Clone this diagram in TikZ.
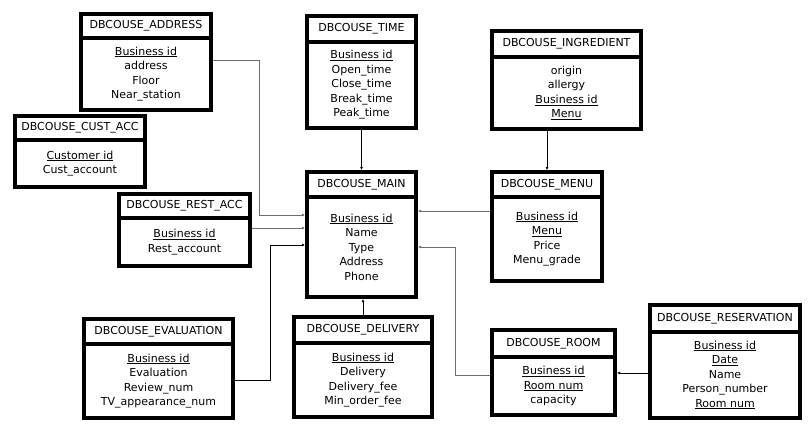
\documentclass[tikz,border=0pt]{standalone}
\usepackage{fontspec}
\setmainfont{DejaVu Sans}
\usetikzlibrary{arrows.meta,positioning}

\begin{document}
\begin{tikzpicture}[x=1pt,y=-1pt,
      tbl/.style={draw=black,line width=4pt,fill=white,outer sep=0pt,inner sep=1pt,align=center,font=\fontsize{11}{14.5}\selectfont},
      hd/.style={tbl},
      bd/.style={tbl,below=0pt of #1},
      lnk/.style={-{Latex[length=3pt,width=3pt]},line width=0.7pt,shorten >=2pt,shorten <=2pt}
    ]
    \useasboundingbox (0,0) rectangle (810,429);
    % tables
    \node[hd,minimum width=130pt,minimum height=24pt] (addrH) at (146,26) {DBCOUSE\_ADDRESS};
    \node[bd=addrH,minimum width=130pt,minimum height=72pt] (addr) {\underline{Business id}\\address\\Floor\\Near\_station};
    \node[hd,minimum width=130pt,minimum height=24pt] (custH) at (80,128) {DBCOUSE\_CUST\_ACC};
    \node[bd=custH,minimum width=130pt,minimum height=47pt] (cust) {\underline{Customer id}\\Cust\_account};
    \node[hd,minimum width=109pt,minimum height=26pt] (timeH) at (361.5,29) {DBCOUSE\_TIME};
    \node[bd=timeH,minimum width=109pt,minimum height=86pt] (time) {\underline{Business id}\\Open\_time\\Close\_time\\Break\_time\\Peak\_time};
    \node[hd,minimum width=149pt,minimum height=26pt] (ingrH) at (566.5,44) {DBCOUSE\_INGREDIENT};
    \node[bd=ingrH,minimum width=149pt,minimum height=72pt] (ingr) {origin\\allergy\\\underline{Business id}\\\underline{Menu}};
    \node[hd,minimum width=109pt,minimum height=25pt] (mainH) at (361.5,184.5) {DBCOUSE\_MAIN};
    \node[bd=mainH,minimum width=109pt,minimum height=100pt] (main) {\underline{Business id}\\Name\\Type\\Address\\Phone};
    \node[hd,minimum width=110pt,minimum height=25pt] (menuH) at (547,184.5) {DBCOUSE\_MENU};
    \node[bd=menuH,minimum width=110pt,minimum height=84pt] (menu) {\underline{Business id}\\\underline{Menu}\\Price\\Menu\_grade};
    \node[hd,minimum width=131pt,minimum height=24pt] (restH) at (184.5,206) {DBCOUSE\_REST\_ACC};
    \node[bd=restH,minimum width=131pt,minimum height=48pt] (rest) {\underline{Business id}\\Rest\_account};
    \node[hd,minimum width=149pt,minimum height=25pt] (evalH) at (158.5,331.5) {DBCOUSE\_EVALUATION};
    \node[bd=evalH,minimum width=149pt,minimum height=74pt] (eval) {\underline{Business id}\\Evaluation\\Review\_num\\TV\_appearance\_num};
    \node[hd,minimum width=138pt,minimum height=26pt] (delivH) at (363,330) {DBCOUSE\_DELIVERY};
    \node[bd=delivH,minimum width=138pt,minimum height=74pt] (deliv) {\underline{Business id}\\Delivery\\Delivery\_fee\\Min\_order\_fee};
    \node[hd,minimum width=123pt,minimum height=27pt] (roomH) at (553.5,343.5) {DBCOUSE\_ROOM};
    \node[bd=roomH,minimum width=123pt,minimum height=58pt] (room) {\underline{Business id}\\\underline{Room num}\\capacity};
    \node[hd,minimum width=150pt,minimum height=27pt] (resvH) at (725,318.5) {DBCOUSE\_RESERVATION};
    \node[bd=resvH,minimum width=150pt,minimum height=86pt] (resv) {\underline{Business id}\\\underline{Date}\\Name\\Person\_number\\\underline{Room num}};
    % links
    \draw[lnk,gray!85!black] (addr.east|-0,60) -- (259,60) |- (main.west|-0,215);
    \draw[lnk,gray!85!black] (rest.east|-0,228) -- (main.west|-0,228);
    \draw[lnk] (eval.east|-0,380) -- (270,380) |- (main.west|-0,245);
    \draw[lnk] (time.south) -- (mainH.north);
    \draw[lnk] (menuH.north|-ingr.south) -- (menuH.north);
    \draw[lnk,gray!85!black] (menu.west|-0,211) -- (main.east|-0,211);
    \draw[lnk,gray!85!black] (room.west|-0,375) -- (455,375) |- (main.east|-0,247);
    \draw[lnk] (delivH.north) -- (delivH.north|-main.south);
    \draw[lnk] (resv.west|-0,373) -- (room.east|-0,373);
  \end{tikzpicture}
\end{document}
